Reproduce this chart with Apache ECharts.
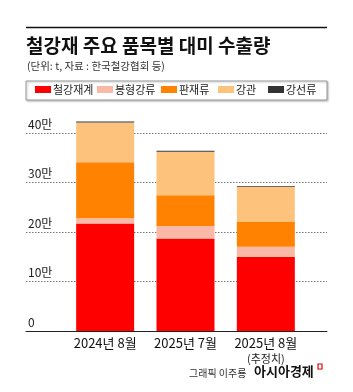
<!DOCTYPE html>
<html>
<head>
<meta charset="utf-8">
<script src="https://cdn.jsdelivr.net/npm/echarts@6/dist/echarts.min.js"></script>
<style>
  html, body { margin: 0; padding: 0; background: #fff; }
  #chart { width: 353px; height: 392px; }
</style>
</head>
<body>
<div id="chart"></div>
<script>
// 단위: t
const categories = ['2024년 8월', '2025년 7월', '2025년 8월\n(추정치)'];
const seriesNames = ['철강재계', '봉형강류', '판재류', '강관', '강선류'];
const steelTotal = [217000, 187000, 150000];
const sections = [11000, 25000, 20000];
const plates = [113000, 62000, 50000];
const pipes = [80000, 88000, 71000];
const wires = [2000, 2000, 1500];
const yTicks = [0, 100000, 200000, 300000, 400000];

const colors = ['#ff0000', '#f9b9a6', '#ff8200', '#fdc37d', '#333333'];
const values = [steelTotal, sections, plates, pipes, wires];

const FONT = '"Noto Sans CJK KR", "Noto Sans", sans-serif';

const myChart = echarts.init(document.getElementById('chart'));

// 범례는 항목마다 위치를 따로 지정
const legendLeft = [35, 97, 161, 218, 268];

myChart.setOption({
  animation: false,
  textStyle: { fontFamily: FONT },
  graphic: [
    {
      type: 'line',
      shape: { x1: 26, y1: 27.5, x2: 327, y2: 27.5 },
      style: { stroke: '#111', lineWidth: 1.5 },
    },
    {
      type: 'text',
      left: 26,
      top: 36,
      style: {
        text: '철강재 주요 품목별 대미 수출량',
        font: 'bold 19px ' + FONT,
        fill: '#111',
      },
    },
    {
      type: 'text',
      left: 27,
      top: 61,
      style: {
        text: '(단위: t, 자료 : 한국철강협회 등)',
        font: '10.5px ' + FONT,
        fill: '#333',
      },
    },
    {
      type: 'rect',
      shape: { x: 26, y: 81, width: 301, height: 19 },
      style: {
        fill: '#fff',
        stroke: '#9a9a9a',
        lineWidth: 1,
        shadowBlur: 2,
        shadowOffsetX: 1,
        shadowOffsetY: 1,
        shadowColor: 'rgba(0,0,0,0.25)',
      },
      z: -1,
    },
    {
      type: 'text',
      left: 189,
      top: 368,
      style: {
        text: '그래픽 이주룡',
        font: '10px ' + FONT,
        fill: '#333',
      },
    },
    {
      type: 'text',
      left: 254,
      top: 365,
      style: {
        text: '아시아경제',
        font: 'bold 13px ' + FONT,
        fill: '#111',
      },
    },
    {
      type: 'rect',
      shape: { x: 318, y: 364, width: 4, height: 5 },
      style: { fill: 'none', stroke: '#e60012', lineWidth: 1.2 },
    },
  ],
  legend: seriesNames.map((name, i) => ({
    data: [name],
    left: legendLeft[i],
    top: 84,
    itemWidth: 16,
    itemHeight: 7,
    itemGap: 0,
    padding: 0,
    icon: 'rect',
    selectedMode: false,
    textStyle: { fontSize: 11, color: '#222', padding: [0, 0, 0, -3] },
  })),
  grid: [
    { left: 26, right: 26, top: 133, height: 198 },
    { left: 65, right: 47, top: 133, height: 198 },
  ],
  xAxis: [
    {
      gridIndex: 0,
      type: 'category',
      data: [''],
      axisLine: { show: true, lineStyle: { color: '#222', width: 1 } },
      axisTick: { show: false },
      axisLabel: { show: false },
    },
    {
      gridIndex: 1,
      type: 'category',
      data: categories,
      axisLine: { show: false },
      axisTick: { show: false },
      axisLabel: {
        margin: 5,
        color: '#111',
        fontSize: 13,
        lineHeight: 15,
        interval: 0,
        formatter: (v) => {
          const parts = v.split('\n');
          return parts.length > 1 ? parts[0] + '\n{s|' + parts[1] + '}' : v;
        },
        rich: { s: { fontSize: 11, color: '#222', lineHeight: 15 } },
      },
    },
  ],
  yAxis: [
    {
      gridIndex: 0,
      type: 'value',
      min: yTicks[0],
      max: yTicks[yTicks.length - 1],
      interval: 100000,
      axisLine: { show: false },
      axisTick: { show: false },
      splitLine: {
        show: true,
        lineStyle: { color: '#777', type: [1.5, 1.5], width: 1 },
      },
      axisLabel: {
        inside: true,
        margin: 2,
        verticalAlign: 'bottom',
        align: 'left',
        padding: [0, 0, 3, 0],
        color: '#222',
        fontSize: 12,
        formatter: (v) => (v === 0 ? '0' : v / 10000 + '만'),
      },
    },
    {
      gridIndex: 1,
      type: 'value',
      min: yTicks[0],
      max: yTicks[yTicks.length - 1],
      interval: 100000,
      show: false,
      splitLine: { show: false },
    },
  ],
  series: seriesNames.map((name, i) => ({
    name: name,
    type: 'bar',
    stack: 'total',
    xAxisIndex: 1,
    yAxisIndex: 1,
    barWidth: 58,
    clip: false,
    itemStyle: { color: colors[i] },
    data: values[i],
    z: 3,
  })),
});
</script>
</body>
</html>
